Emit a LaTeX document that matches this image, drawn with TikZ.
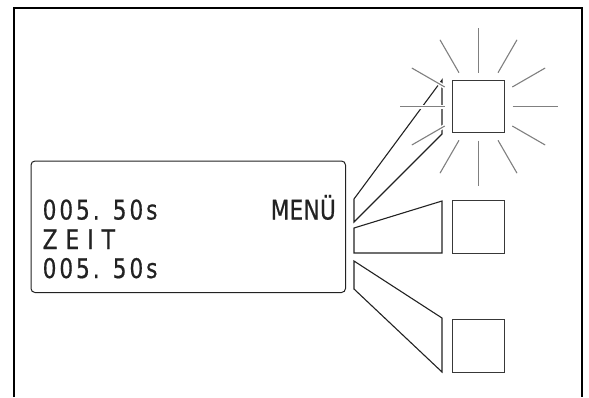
\documentclass[tikz,border=0pt]{standalone}
\usepackage{fontspec}
\newfontfamily\lcdfont[FakeStretch=0.8,LetterSpace=11,FakeBold=0.6]{DejaVu Sans}
\usetikzlibrary{calc}
\definecolor{ink}{HTML}{222222}
\definecolor{raygray}{HTML}{808080}
\tikzset{
  frameline/.style={line width=2pt,line join=miter},
  keybox/.style={draw=ink!90,line width=1.2pt,minimum size=52.5pt,inner sep=0pt},
  wedge/.style={draw=ink,line width=1.1pt,line join=miter},
  ray/.style={draw=raygray,line width=1.1pt,preaction={draw=white,line width=4pt}},
  lcd/.style={font=\lcdfont\fontsize{27}{30}\selectfont,text=ink,inner sep=0pt},
  display/.style={draw=ink,line width=1pt,rounded corners=4pt}
}
\begin{document}
\begin{tikzpicture}[x=1pt,y=-1pt]
\useasboundingbox (0,0) rectangle (589,397);
% outer frame (open at the bottom)
\draw[frameline] (14,397) -- (14,8) -- (582,8) -- (582,397);
% display
\draw[display] (31,161) rectangle (345.5,292.5);
\coordinate (disp) at (31,161);
\node[lcd,anchor=base west] (l1) at (42.5,219.5) {005. 50s};
\node[lcd,anchor=base east] (menu) at (336,219.5) {\addfontfeature{LetterSpace=1}MENÜ};
\node[lcd,anchor=base west] (l2) at (42.5,249) {\addfontfeature{LetterSpace=30}ZEIT};
\node[lcd,anchor=base west] (l3) at (42.5,278) {005. 50s};
% key boxes
\node[keybox] (k1) at (478.5,106.5) {};
\node[keybox] (k2) at (478.5,227) {};
\node[keybox] (k3) at (478.5,346) {};
% connector wedges from display to keys
\coordinate (a1) at (354,199); \coordinate (b1) at (442,80);
\coordinate (c1) at (442,134); \coordinate (d1) at (354,222);
\coordinate (a2) at (354,228); \coordinate (b2) at (442,201);
\coordinate (c2) at (442,253); \coordinate (d2) at (354,253);
\coordinate (a3) at (354,261); \coordinate (b3) at (442,318);
\coordinate (c3) at (442,372); \coordinate (d3) at (354,289);
\draw[wedge] (a1) -- (b1) -- (c1) -- (d1) -- cycle;
\draw[wedge] (a2) -- (b2) -- (c2) -- (d2) -- cycle;
\draw[wedge] (a3) -- (b3) -- (c3) -- (d3) -- cycle;
% flashing rays around the top key
\foreach \a in {0,90,180,270}
  \draw[ray] ($(k1.center)+(\a:34)$) -- ($(k1.center)+(\a:79)$);
\foreach \a in {30,60,120,150,210,240,300,330}
  \draw[ray] ($(k1.center)+(\a:39)$) -- ($(k1.center)+(\a:77)$);
\node[keybox] at (k1.center) {};
\end{tikzpicture}
\end{document}
